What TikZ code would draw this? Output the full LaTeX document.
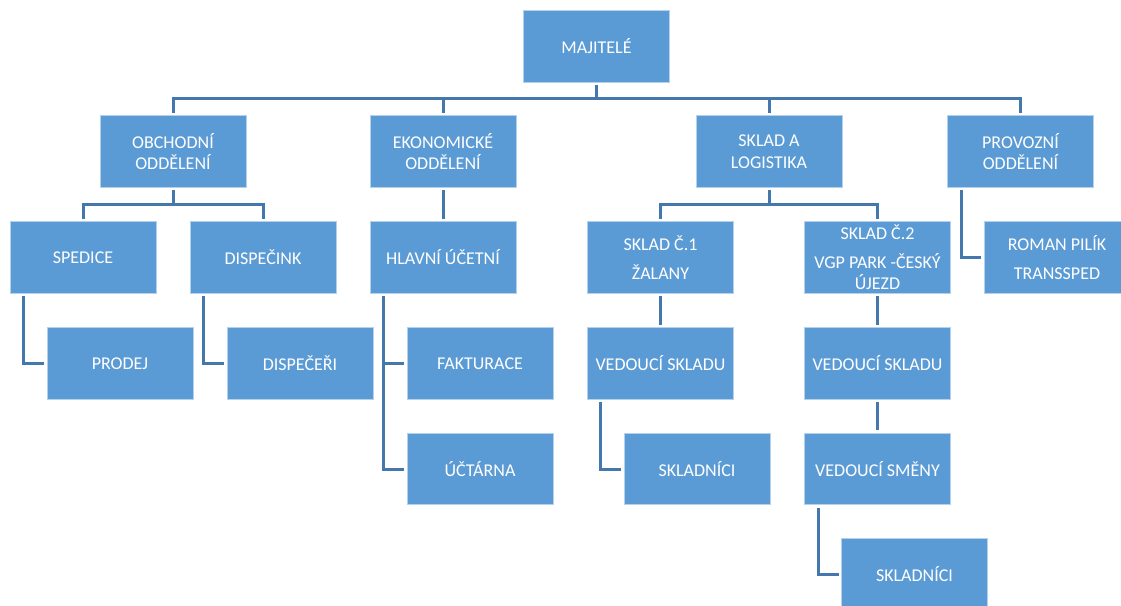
\documentclass[tikz,border=0pt]{standalone}
\usepackage{fontspec}
\setmainfont{Carlito}
\usetikzlibrary{calc}
\definecolor{boxblue}{HTML}{5B9BD5}
\definecolor{linkblue}{RGB}{68,119,171}
\begin{document}
\begin{tikzpicture}[x=1pt,y=-1pt,
  orgbox/.style={rectangle, fill=boxblue, draw=white!55!boxblue, line width=0.8pt,
    minimum width=146pt, minimum height=71.5pt, text=white,
    font=\fontsize{18}{21.5}\selectfont, align=center, inner sep=2pt, outer sep=3pt},
  link/.style={draw=linkblue, line width=3pt}]
\useasboundingbox (0,0) rectangle (1121,605);
\fill[white] (0,0) rectangle (1121,605);
\clip (0,0) rectangle (1121,605);

% level 0
\node[orgbox] (maj) at (596.5,46.5) {MAJITELÉ};
% level 1
\node[orgbox] (obch) at (173,151.5) {OBCHODNÍ\\ODDĚLENÍ};
\node[orgbox] (ekon) at (443,151.5) {EKONOMICKÉ\\ODDĚLENÍ};
\node[orgbox] (sklog) at (769,151.5) {SKLAD A\\LOGISTIKA};
\node[orgbox] (prov) at (1020.5,151.5) {PROVOZNÍ\\ODDĚLENÍ};
% level 2
\node[orgbox] (sped) at (83,257.5) {SPEDICE};
\node[orgbox] (disp) at (263,257.5) {DISPEČINK};
\node[orgbox] (hlav) at (443,257.5) {HLAVNÍ ÚČETNÍ};
\node[orgbox] (sk1) at (660.5,257.5) {SKLAD Č.1\\[7pt]ŽALANY};
\node[orgbox] (sk2) at (877.5,257.5) {SKLAD Č.2\\[7pt]VGP PARK -ČESKÝ\\ÚJEZD};
\node[orgbox] (roman) at (1057,257.5) {ROMAN PILÍK\\[7pt]TRANSSPED};
% level 3
\node[orgbox] (prod) at (120,363.5) {PRODEJ};
\node[orgbox] (dispe) at (300,363.5) {DISPEČEŘI};
\node[orgbox] (fakt) at (480,363.5) {FAKTURACE};
\node[orgbox] (vs1) at (660.5,363.5) {VEDOUCÍ SKLADU};
\node[orgbox] (vs2) at (877.5,363.5) {VEDOUCÍ SKLADU};
% level 4
\node[orgbox] (ucta) at (480,469) {ÚČTÁRNA};
\node[orgbox] (skl1) at (697,469) {SKLADNÍCI};
\node[orgbox] (smen) at (877.5,469) {VEDOUCÍ SMĚNY};
% level 5
\node[orgbox] (skl2) at (914.5,574.5) {SKLADNÍCI};

% bus coordinates
\coordinate (bus1) at (596.5,98.5);
\coordinate (bus2) at (173,204.5);
\coordinate (bus3) at (769,204.5);

% connectors
\draw[link] (maj.south) -- (bus1);
\draw[link] (obch.north) |- (bus1) -| (prov.north);
\draw[link] (ekon.north) -- (ekon.north |- bus1);
\draw[link] (sklog.north) -- (sklog.north |- bus1);

\draw[link] (obch.south) -- (bus2);
\draw[link] (sped.north) |- (bus2) -| (disp.north);
\draw[link] (sklog.south) -- (bus3);
\draw[link] (sk1.north) |- (bus3) -| (sk2.north);
\draw[link] (ekon.south) -- (hlav.north);
\draw[link] ($(prov.south west)+(16.5,0)$) |- (roman.west);

\draw[link] ($(sped.south west)+(16.5,0)$) |- (prod.west);
\draw[link] ($(disp.south west)+(16.5,0)$) |- (dispe.west);
\draw[link] ($(hlav.south west)+(16.5,0)$) |- (ucta.west);
\draw[link] ($(hlav.south west)+(16.5,0)$) |- (fakt.west);
\draw[link] (sk1.south) -- (vs1.north);
\draw[link] (sk2.south) -- (vs2.north);

\draw[link] ($(vs1.south west)+(16,0)$) |- (skl1.west);
\draw[link] (vs2.south) -- (smen.north);
\draw[link] ($(smen.south west)+(16.5,0)$) |- (skl2.west);
\end{tikzpicture}
\end{document}
